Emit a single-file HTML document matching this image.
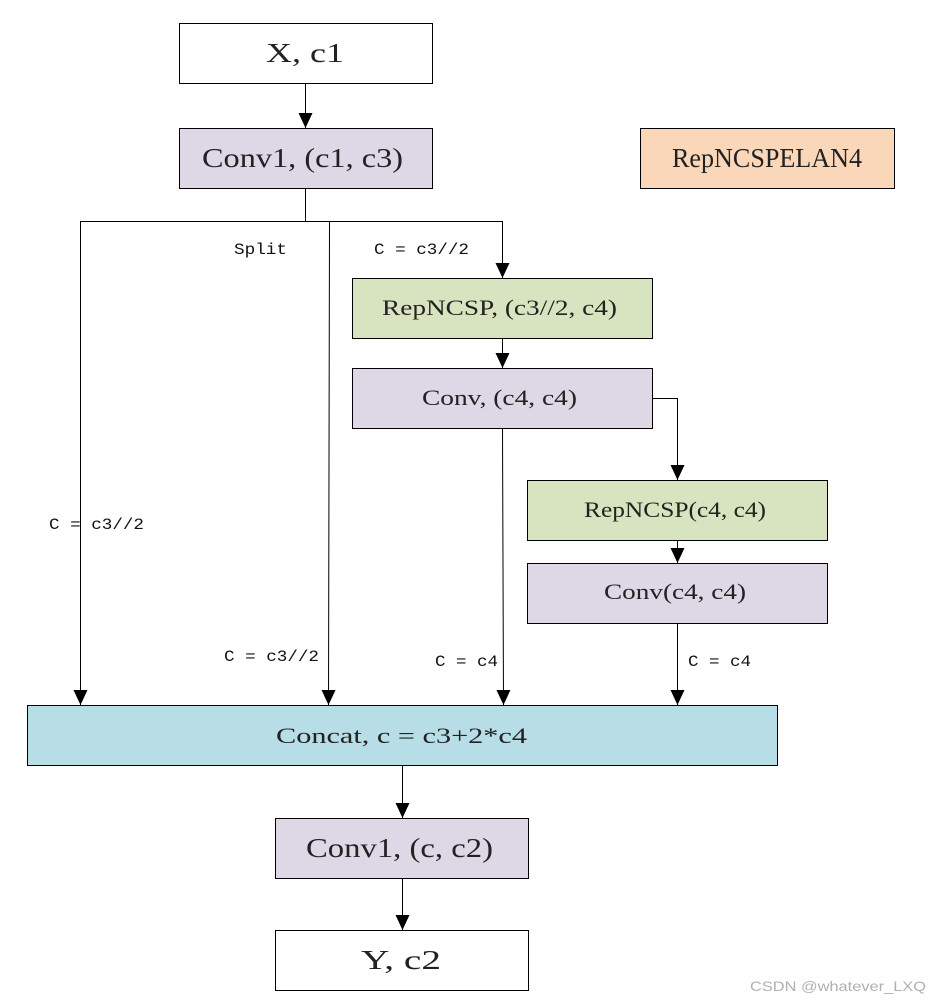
<!DOCTYPE html>
<html><head><meta charset="utf-8"><style>body{margin:0;background:#fff}svg{display:block}</style></head><body>
<svg width="940" height="1004" viewBox="0 0 940 1004" xmlns="http://www.w3.org/2000/svg">
<defs><marker id="a" markerWidth="16" markerHeight="14" refX="15" refY="7" orient="auto" markerUnits="userSpaceOnUse"><path d="M0,0 L15,7 L0,14 Z" fill="#000"/></marker></defs>
<g stroke="#000" stroke-width="1">
<rect x="179.5" y="23.5" width="253" height="60" fill="#fff"/>
<rect x="179.5" y="128.5" width="253" height="60" fill="#ddd7e6"/>
<rect x="640.5" y="128.5" width="254" height="60" fill="#fad7b9"/>
<rect x="352.5" y="278.5" width="300" height="60" fill="#d8e3bf"/>
<rect x="352.5" y="368.5" width="300" height="60" fill="#ddd7e6"/>
<rect x="527.5" y="480.5" width="300" height="60" fill="#d8e3bf"/>
<rect x="527.5" y="563.5" width="300" height="60" fill="#ddd7e6"/>
<rect x="27.5" y="705.5" width="750" height="60" fill="#b7dde7"/>
<rect x="275.5" y="818.5" width="253" height="60" fill="#ddd7e6"/>
<rect x="275.5" y="930.5" width="253" height="60" fill="#fff"/>
<g fill="none">
<line x1="305.5" y1="84" x2="305.5" y2="128" marker-end="url(#a)"/>
<polyline points="305.5,189 305.5,221.5"/>
<polyline points="80.5,221.5 502.5,221.5"/>
<line x1="80.5" y1="221" x2="80.5" y2="705" marker-end="url(#a)"/>
<line x1="329.5" y1="221" x2="328.5" y2="705" marker-end="url(#a)"/>
<line x1="502.5" y1="221" x2="502.5" y2="278" marker-end="url(#a)"/>
<line x1="502.5" y1="339" x2="502.5" y2="368" marker-end="url(#a)"/>
<polyline points="653,398.5 677.5,398.5 677.5,480" marker-end="url(#a)"/>
<line x1="677.5" y1="541" x2="677.5" y2="563" marker-end="url(#a)"/>
<line x1="502.5" y1="429" x2="503.5" y2="705" marker-end="url(#a)"/>
<line x1="677.5" y1="624" x2="677.5" y2="705" marker-end="url(#a)"/>
<line x1="402.5" y1="766" x2="402.5" y2="818" marker-end="url(#a)"/>
<line x1="402.5" y1="879" x2="402.5" y2="930" marker-end="url(#a)"/>
</g></g>
<g font-family="Liberation Serif, serif" fill="#222">
<text x="266" y="62" font-size="27" textLength="78" lengthAdjust="spacingAndGlyphs">X, c1</text>
<text x="202" y="167" font-size="27" textLength="201" lengthAdjust="spacingAndGlyphs">Conv1, (c1, c3)</text>
<text x="672" y="167" font-size="27" textLength="190" lengthAdjust="spacingAndGlyphs">RepNCSPELAN4</text>
<text x="382" y="315" font-size="22" textLength="235" lengthAdjust="spacingAndGlyphs">RepNCSP, (c3//2, c4)</text>
<text x="422" y="405" font-size="22" textLength="155" lengthAdjust="spacingAndGlyphs">Conv, (c4, c4)</text>
<text x="584" y="517" font-size="22" textLength="182" lengthAdjust="spacingAndGlyphs">RepNCSP(c4, c4)</text>
<text x="604" y="599" font-size="22" textLength="142" lengthAdjust="spacingAndGlyphs">Conv(c4, c4)</text>
<text x="276" y="743" font-size="22" textLength="251" lengthAdjust="spacingAndGlyphs">Concat,  c = c3+2*c4</text>
<text x="306" y="857" font-size="27" textLength="187" lengthAdjust="spacingAndGlyphs">Conv1, (c, c2)</text>
<text x="361" y="969" font-size="27" textLength="80" lengthAdjust="spacingAndGlyphs">Y, c2</text>
</g>
<g font-family="Liberation Mono, monospace" font-size="16" fill="#111">
<text x="234" y="254" textLength="53" lengthAdjust="spacingAndGlyphs">Split</text>
<text x="374" y="254" textLength="95" lengthAdjust="spacingAndGlyphs">C = c3//2</text>
<text x="49" y="529" textLength="95" lengthAdjust="spacingAndGlyphs">C = c3//2</text>
<text x="224" y="661" textLength="95" lengthAdjust="spacingAndGlyphs">C = c3//2</text>
<text x="435" y="666" textLength="63" lengthAdjust="spacingAndGlyphs">C = c4</text>
<text x="688" y="666" textLength="63" lengthAdjust="spacingAndGlyphs">C = c4</text>
</g>
<text x="750" y="991" font-family="Liberation Sans, sans-serif" font-size="14" fill="#b0b0b0" textLength="176" lengthAdjust="spacingAndGlyphs">CSDN @whatever_LXQ</text>
</svg>
</body></html>
